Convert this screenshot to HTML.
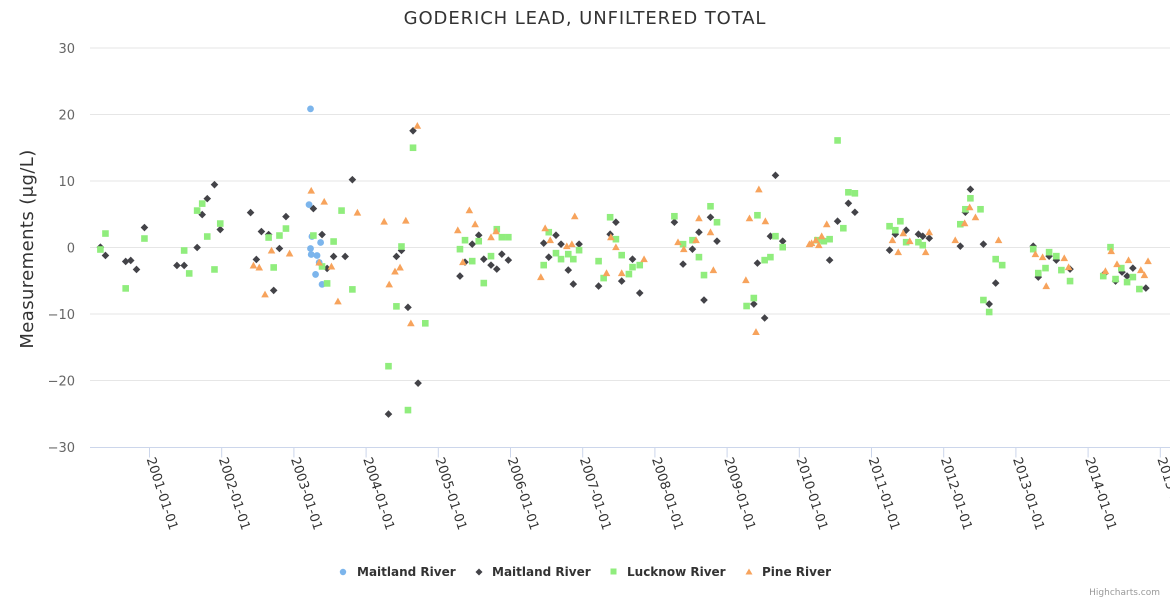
<!DOCTYPE html>
<html><head><meta charset="utf-8"><style>
html,body{margin:0;padding:0;background:#fff;}
svg{display:block;font-family:"DejaVu Sans","Liberation Sans",sans-serif;}
</style></head><body>
<svg id="chart" width="1170" height="600" viewBox="0 0 1170 600" xmlns="http://www.w3.org/2000/svg">
<text x="585" y="24" text-anchor="middle" font-size="18" letter-spacing="0.9" fill="#333">GODERICH LEAD, UNFILTERED TOTAL</text>
<text transform="translate(33,249) rotate(-90)" text-anchor="middle" font-size="18" letter-spacing="0.4" fill="#333">Measurements (μg/L)</text>
<g id="grid"></g>
<g id="xaxis"></g>
<g id="yaxis"></g>
<g id="marks"></g>
<g font-size="12" font-weight="bold" fill="#333">
<g><circle cx="343" cy="572" r="3.2" fill="#7cb5ec"/><text x="357" y="576">Maitland River</text></g>
<g><path d="M479 568.5 L482.5 572 L479 575.5 L475.5 572Z" fill="#434348"/><text x="492" y="576">Maitland River</text></g>
<g><rect x="610.5" y="568.5" width="6" height="6" fill="#90ed7d"/><text x="627" y="576">Lucknow River</text></g>
<g><path d="M749 568.5 L752.5 574.5 L745.5 574.5Z" fill="#f7a35c"/><text x="762" y="576">Pine River</text></g>
</g>
<text x="1160" y="595" text-anchor="end" font-size="9" fill="#999">Highcharts.com</text>
</svg>
<script>
const yTicks=[-30,-20,-10,0,10,20,30];
const xTickYears=[2001,2002,2003,2004,2005,2006,2007,2008,2009,2010,2011,2012,2013,2014,2015];
const blueX=[2003.23,2003.21,2003.25,2003.37,2003.23,2003.24,2003.32,2003.35,2003.30,2003.39];
const blueY=[20.85,6.45,1.65,0.75,-0.15,-1.05,-1.2,-2.25,-4.05,-5.55];
const darkX=[2000.32,2000.39,2000.67,2000.74,2000.82,2000.93,2001.38,2001.48,2001.66,2001.73,2001.80,2001.90,2001.98,2002.40,2002.48,2002.55,2002.65,2002.72,2002.80,2002.89,2003.27,2003.39,2003.46,2003.55,2003.71,2003.81,2004.42,2004.49,2004.58,2004.65,2004.72,2004.31,
2005.30,2005.37,2005.47,2005.56,2005.63,2005.73,2005.81,2005.88,2005.97,2006.46,2006.53,2006.63,2006.70,2006.80,2006.87,2006.95,2007.22,2007.38,2007.46,2007.54,2007.69,2007.79,2008.27,2008.39,2008.52,2008.61,2008.68,2008.77,2008.86,2009.37,2009.42,2009.52,2009.60,2009.67,2009.77,
2010.42,2010.53,2010.68,2010.77,2011.25,2011.33,2011.48,2011.65,2011.71,2011.80,2012.23,2012.30,2012.37,2012.55,2012.63,2012.72,2013.24,2013.31,2013.46,2013.56,2013.75,2014.22,2014.38,2014.47,2014.54,2014.62,2014.80];
const darkY=[0.05,-1.2,-2.1,-1.95,-3.3,3.0,-2.7,-2.7,0,4.95,7.35,9.45,2.7,5.25,-1.8,2.4,1.95,-6.45,-0.15,4.65,5.85,1.95,-3.15,-1.35,-1.35,10.2,-1.35,-0.45,-9.0,17.55,-20.4,-25.05,
-4.3,-2.2,0.5,1.85,-1.75,-2.65,-3.25,-1.0,-1.9,0.65,-1.45,1.85,0.5,-3.4,-5.5,0.5,-5.8,2.0,3.8,-5.05,-1.75,-6.85,3.8,-2.5,-0.25,2.3,-7.9,4.55,0.95,-8.5,-2.35,-10.6,1.7,10.85,0.95,
-1.9,3.95,6.65,5.3,-0.4,2.0,2.6,2.0,1.7,1.4,0.2,5.3,8.75,0.5,-8.5,-5.35,0.2,-4.45,-1.3,-1.9,-3.25,-4.0,-5.05,-3.7,-4.3,-3.1,-6.1];
const greenX=[2000.32,2000.39,2000.67,2000.93,2001.48,2001.55,2001.66,2001.73,2001.80,2001.90,2001.98,2002.65,2002.72,2002.80,2002.89,2003.27,2003.39,2003.46,2003.55,2003.66,2003.81,2004.31,2004.42,2004.49,2004.58,2004.65,2004.82,
2005.30,2005.37,2005.47,2005.56,2005.63,2005.73,2005.81,2005.88,2005.97,2006.46,2006.53,2006.63,2006.70,2006.80,2006.87,2006.95,2007.22,2007.29,2007.38,2007.46,2007.54,2007.64,2007.69,2007.79,2008.27,2008.39,2008.52,2008.61,2008.68,2008.77,2008.86,2009.27,2009.37,2009.42,2009.52,2009.60,2009.67,2009.77,
2010.53,2010.61,2010.68,2010.77,2010.25,2010.34,2010.42,2011.25,2011.33,2011.40,2011.48,2011.65,2011.71,2012.23,2012.30,2012.37,2012.51,2012.55,2012.63,2012.72,2012.81,2013.24,2013.31,2013.41,2013.46,2013.56,2013.63,2013.75,2014.21,2014.31,2014.38,2014.46,2014.54,2014.62,2014.71];
const greenY=[-0.3,2.1,-6.15,1.35,-0.45,-3.9,5.55,6.6,1.65,-3.3,3.6,1.5,-3.0,1.8,2.85,1.8,-2.85,-5.4,0.9,5.55,-6.3,-17.85,-8.85,0.15,-24.45,15.0,-11.4,
-0.25,1.1,-2.05,0.95,-5.35,-1.3,2.75,1.55,1.55,-2.65,2.3,-0.85,-1.75,-1.0,-1.75,-0.4,-2.05,-4.6,4.55,1.25,-1.15,-4.0,-2.95,-2.65,4.7,0.5,1.1,-1.45,-4.15,6.2,3.8,-8.8,-7.6,4.85,-1.9,-1.45,1.7,0.05,
16.1,2.9,8.3,8.15,1.1,0.95,1.25,3.2,2.6,3.95,0.8,0.8,0.35,3.5,5.75,7.4,5.75,-7.9,-9.7,-1.75,-2.65,-0.25,-3.85,-3.1,-0.7,-1.3,-3.4,-5.05,-4.3,0.05,-4.75,-3.1,-5.2,-4.45,-6.25];
const orangeX=[2002.44,2002.52,2002.60,2002.69,2002.94,2003.24,2003.35,2003.42,2003.52,2003.61,2003.88,2004.25,2004.32,2004.40,2004.47,2004.55,2004.62,2004.71,
2005.27,2005.34,2005.43,2005.51,2005.73,2005.80,2006.42,2006.48,2006.55,2006.78,2006.85,2006.89,2007.33,2007.39,2007.46,2007.54,2007.85,2008.32,2008.40,2008.57,2008.61,2008.77,2008.81,2009.26,2009.31,2009.40,2009.44,2009.53,2010.14,
2010.17,2010.23,2010.27,2010.31,2010.38,2011.29,2011.37,2011.44,2011.53,2011.75,2011.80,2012.16,2012.29,2012.36,2012.44,2012.76,2013.27,2013.37,2013.42,2013.67,2013.73,2014.24,2014.32,2014.40,2014.56,2014.73,2014.78,2014.83];
const orangeY=[-2.7,-3.0,-7.05,-0.45,-0.9,8.55,-2.25,6.9,-2.85,-8.1,5.25,3.9,-5.55,-3.6,-3.0,4.05,-11.4,18.3,
2.6,-2.2,5.6,3.5,1.55,2.45,-4.45,2.9,1.1,0.2,0.5,4.7,-3.85,1.55,0.05,-3.85,-1.75,0.8,-0.25,1.1,4.4,2.3,-3.4,-4.9,4.4,-12.7,8.75,3.95,0.5,
0.65,1.1,0.35,1.7,3.5,1.1,-0.7,2.15,0.95,-0.7,2.3,1.1,3.65,6.05,4.55,1.1,-1.0,-1.45,-5.8,-1.6,-2.95,-3.55,-0.55,-2.5,-1.9,-3.4,-4.15,-2.05];

const NS='http://www.w3.org/2000/svg';
function xScale(yr){return 149.5+(yr-2001)*72.2;}
function yScale(v){return 247.5-v*6.65;}
function mk(tag,attrs,parent){const e=document.createElementNS(NS,tag);for(const k in attrs)e.setAttribute(k,attrs[k]);parent.appendChild(e);return e;}
const grid=document.getElementById('grid'),xa=document.getElementById('xaxis'),ya=document.getElementById('yaxis'),marks=document.getElementById('marks');
yTicks.forEach(t=>{
  const y=yScale(t);
  if(t!==-30){const l=mk('line',{x1:90,x2:1170,y1:y,y2:y,stroke:'#e6e6e6','stroke-width':1},grid);
  
  }
  const tx=mk('text',{x:75,y:y+5,'text-anchor':'end','font-size':13,fill:'#666'},ya);
  tx.textContent=String(t).replace('-','\u2212');
  
  
});
const axl=mk('line',{x1:90,x2:1170,y1:447.5,y2:447.5,stroke:'#ccd6eb','stroke-width':1},xa);


xTickYears.forEach(yr=>{
  const x=xScale(yr);
  const tk=mk('line',{x1:x,x2:x,y1:447.5,y2:457.5,stroke:'#ccd6eb','stroke-width':1},xa);
  
  
  const tx=mk('text',{transform:`translate(${x-3},459) rotate(72)`,'font-size':13,fill:'#333'},xa);
  tx.textContent=yr+'-01-01';
  
  
});
function plot(xs,ys,kind,color,name){
  xs.forEach((xv,i)=>{
    const x=xScale(xv),y=yScale(ys[i]);let e;
    if(kind==='circle')e=mk('circle',{cx:x,cy:y,r:3.4,fill:color},marks);
    else if(kind==='diamond')e=mk('path',{d:`M${x} ${y-3.8}L${x+3.8} ${y}L${x} ${y+3.8}L${x-3.8} ${y}Z`,fill:color},marks);
    else if(kind==='square')e=mk('rect',{x:x-3.3,y:y-3.3,width:6.6,height:6.6,fill:color},marks);
    else e=mk('path',{d:`M${x} ${y-3.8}L${x+3.8} ${y+3}L${x-3.8} ${y+3}Z`,fill:color},marks);
    
    
  });
}
plot(blueX,blueY,'circle','#7cb5ec','maitland-circle-point');
plot(darkX,darkY,'diamond','#434348','maitland-diamond-point');
plot(greenX,greenY,'square','#90ed7d','lucknow-point');
plot(orangeX,orangeY,'triangle','#f7a35c','pine-point');
</script>
</body></html>
